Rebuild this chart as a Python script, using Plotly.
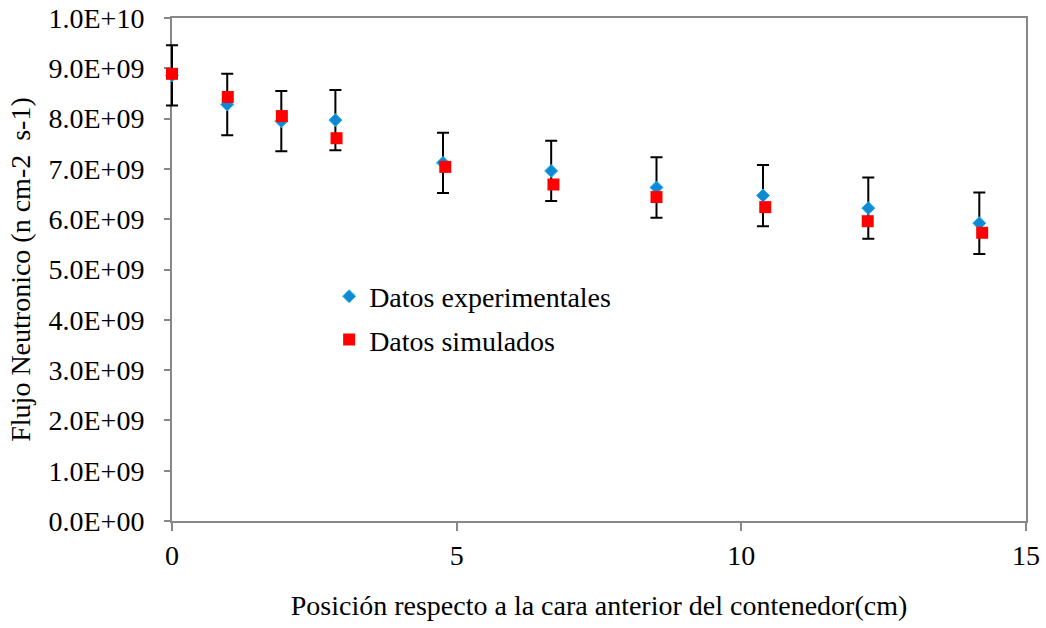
import plotly.graph_objects as go

# Experimental data
x_exp = [0.0, 0.97, 1.92, 2.87, 4.76, 6.66, 8.51, 10.38, 12.23, 14.18]
y_exp = [8.86e9, 8.28e9, 7.95e9, 7.97e9, 7.12e9, 6.96e9, 6.63e9, 6.47e9, 6.22e9, 5.92e9]
err_exp = [0.60e9, 0.61e9, 0.60e9, 0.60e9, 0.60e9, 0.60e9, 0.60e9, 0.61e9, 0.61e9, 0.61e9]

# Simulated data
x_sim = [0.0, 0.98, 1.93, 2.89, 4.80, 6.70, 8.51, 10.42, 12.22, 14.23]
y_sim = [8.89e9, 8.43e9, 8.05e9, 7.61e9, 7.04e9, 6.69e9, 6.44e9, 6.24e9, 5.96e9, 5.73e9]

y_tickvals = [0, 1e9, 2e9, 3e9, 4e9, 5e9, 6e9, 7e9, 8e9, 9e9, 1e10]
y_ticktext = ["0.0E+00", "1.0E+09", "2.0E+09", "3.0E+09", "4.0E+09", "5.0E+09",
              "6.0E+09", "7.0E+09", "8.0E+09", "9.0E+09", "1.0E+10"]
x_tickvals = [0, 5, 10, 15]
x_range = [0, 15]

FONT = "Liberation Serif"
FS = 28

# Layout geometry: a hidden data axis spans a few extra pixels to the left
# so that the error bar cap at x=0 is not clipped.
W, H = 1046, 628
ML, MR, MT, MB = 160, 20, 18, 107
EXTRA = 12  # px
plot_w = W - ML - MR
d0 = EXTRA / plot_w
px_per_unit = (plot_w - EXTRA) / (x_range[1] - x_range[0])
x2_range = [x_range[0] - EXTRA / px_per_unit, x_range[1]]

fig = go.Figure()
# empty trace that only creates the visible x/y axes frame
fig.add_trace(go.Scatter(x=[], y=[], xaxis="x", yaxis="y", showlegend=False,
                         hoverinfo="skip"))
fig.add_trace(go.Scatter(
    x=x_exp, y=y_exp, mode="markers", name="Datos experimentales",
    xaxis="x2", yaxis="y",
    legendgroup="a", cliponaxis=False,
    marker=dict(symbol="diamond", size=10, color="#1188D4",
                line=dict(color="#22B4F0", width=1)),
    error_y=dict(type="data", array=err_exp, visible=True,
                 color="black", thickness=2, width=6),
))
fig.add_trace(go.Scatter(
    x=x_sim, y=y_sim, mode="markers", name="Datos simulados",
    xaxis="x2", yaxis="y",
    legendgroup="b", cliponaxis=False,
    marker=dict(symbol="square", size=12, color="#FF0000"),
))

axis_line = "#878787"
fig.update_layout(
    width=W, height=H,
    margin=dict(l=ML, r=MR, t=MT, b=MB, pad=0),
    paper_bgcolor="white", plot_bgcolor="rgba(0,0,0,0)",
    font=dict(family=FONT, size=FS, color="black"),
    showlegend=True,
    legend=dict(x=(172 - ML + 0.184 * (plot_w - EXTRA)) / plot_w, y=0.496,
                xanchor="left", yanchor="top",
                bgcolor="rgba(0,0,0,0)", tracegroupgap=4,
                font=dict(family=FONT, size=FS, color="black")),
    xaxis=dict(range=x_range, domain=[d0, 1], anchor="y",
               tickvals=x_tickvals, showgrid=False, zeroline=False,
               showline=True, linecolor=axis_line, linewidth=2, mirror=True,
               ticks="outside", ticklen=8, tickcolor=axis_line, tickwidth=2,
               ticklabelstandoff=0, automargin=False,
               tickfont=dict(family=FONT, size=FS, color="black"),
               title=dict(text="Posición respecto a la cara anterior del contenedor(cm)",
                          font=dict(family=FONT, size=FS, color="black"), standoff=26)),
    xaxis2=dict(range=x2_range, domain=[0, 1], anchor="y", visible=False,
                showgrid=False, zeroline=False, fixedrange=True),
    yaxis=dict(range=[0, 1e10], tickvals=y_tickvals, ticktext=y_ticktext,
               anchor="x", showgrid=False, zeroline=False,
               showline=True, linecolor=axis_line, linewidth=2, mirror=True,
               ticks="outside", ticklen=6, tickcolor=axis_line, tickwidth=2,
               ticklabelstandoff=14, automargin=False,
               tickfont=dict(family=FONT, size=FS, color="black"),
               title=dict(text="Flujo Neutronico (n cm-2  s-1)",
                          font=dict(family=FONT, size=FS, color="black"), standoff=10)),
)

fig.write_html("out.html")
